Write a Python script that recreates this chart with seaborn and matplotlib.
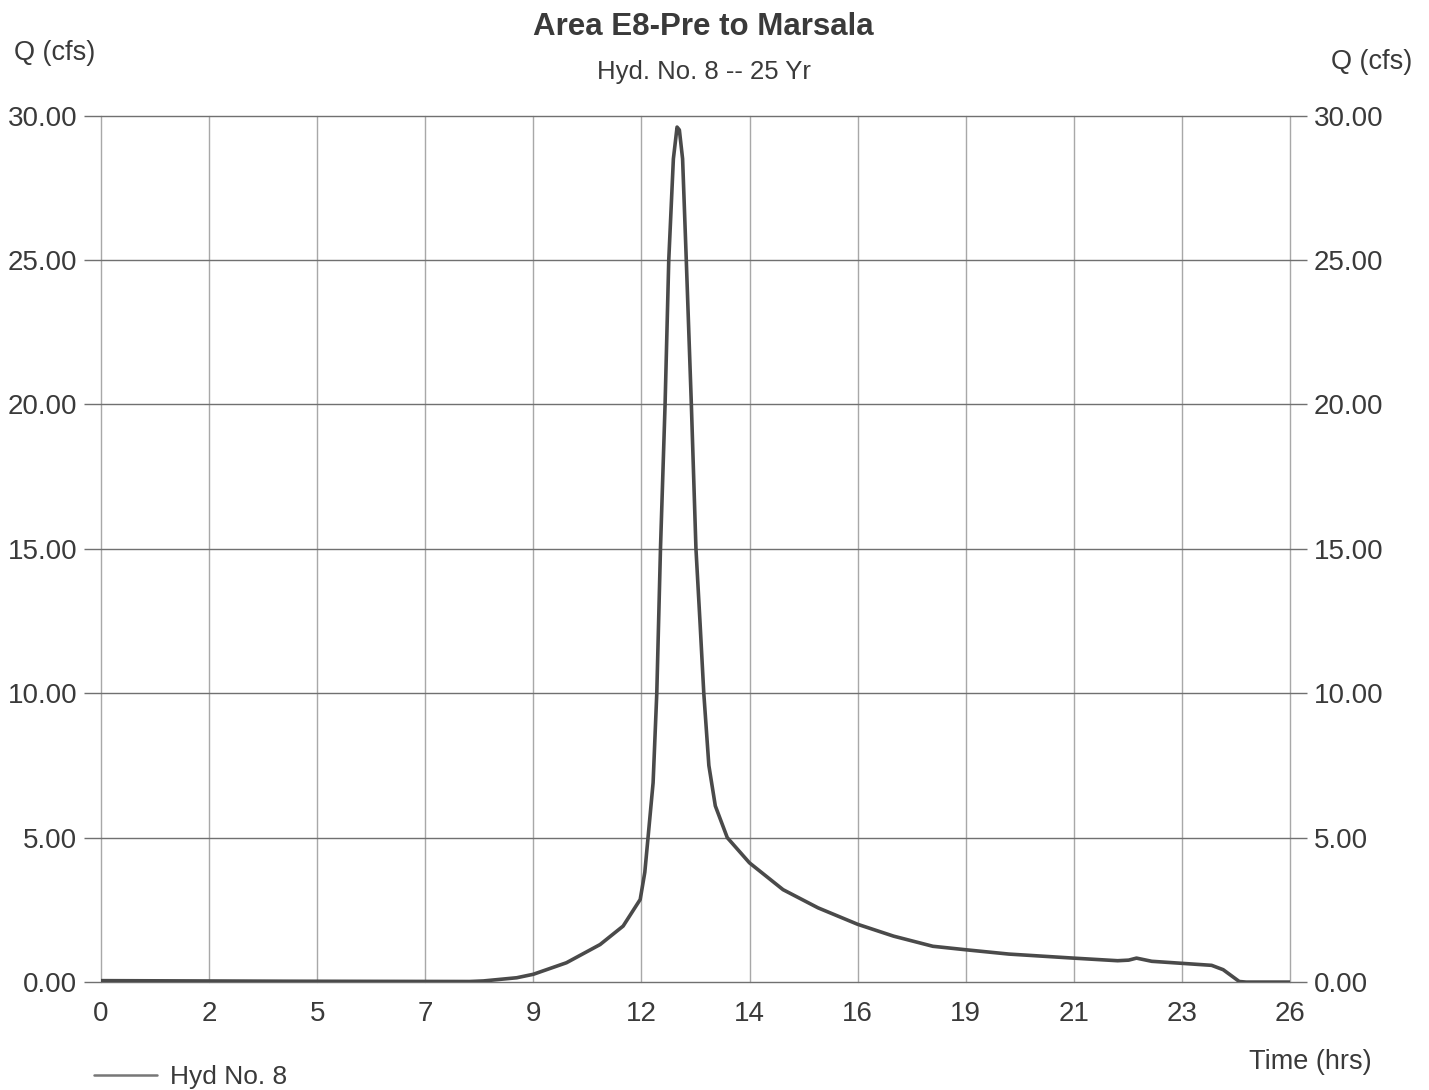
import matplotlib
matplotlib.use("Agg")
from matplotlib import pyplot as plt
import seaborn as sns
import numpy as np
import pandas as pd

# hydrograph
time_hrs = [0, 4, 8.0, 8.3, 9.02, 9.38, 10.1, 10.83, 11.33, 11.7, 11.8, 11.87, 11.98,
            12.06, 12.14, 12.24, 12.32, 12.42, 12.5, 12.55, 12.62, 12.70, 12.81, 12.91,
            13.0, 13.08, 13.19, 13.33, 13.59, 14.07, 14.8, 15.56, 16.42, 17.2, 18.05,
            18.76, 19.7, 21.1, 22.06, 22.3, 22.47, 22.8, 23.45, 24.1, 24.35, 24.7,
            24.85, 25.8]
flow_cfs = [0.05, 0.03, 0.02, 0.04, 0.15, 0.27, 0.67, 1.3, 1.94, 2.86, 3.8, 5.0, 6.9,
            10.0, 15.0, 20.0, 25.0, 28.5, 29.6, 29.5, 28.5, 25.0, 20.0, 15.0,
            12.4, 10.0, 7.5, 6.1, 5.0, 4.13, 3.2, 2.57, 2.0, 1.59, 1.24,
            1.12, 0.97, 0.83, 0.74, 0.76, 0.83, 0.72, 0.65, 0.58, 0.43, 0.02,
            0.0, 0.0]

x_labels = ["0", "2", "5", "7", "9", "12", "14", "16", "19", "21", "23", "26"]
y_ticks = [0, 5, 10, 15, 20, 25, 30]

df = pd.DataFrame({"Time (hrs)": time_hrs, "Q (cfs)": flow_cfs})

sns.set_style("white")
plt.rcParams['font.family'] = ['Liberation Sans', 'DejaVu Sans']

fig = plt.figure(figsize=(14.29, 10.90), dpi=100)
ax = fig.add_axes([0.0707, 0.099, 0.832, 0.795])

sns.lineplot(data=df, x="Time (hrs)", y="Q (cfs)", ax=ax, color="#4a4a4a",
             linewidth=2.6, label="Hyd No. 8", zorder=3)

x_pos = np.linspace(0, max(time_hrs), len(x_labels))
ax.set_xlim(0, max(time_hrs))
ax.set_ylim(0, 30)
ax.set_xticks(x_pos)
ax.set_xticklabels(x_labels)
ax.set_yticks(y_ticks)
ax.set_yticklabels([f"{v:.2f}" for v in y_ticks])

ax.xaxis.grid(True, color="#a8a8a8", linewidth=1.0)
ax.yaxis.grid(True, color="#707070", linewidth=1.0)
for g in ax.xaxis.get_gridlines() + ax.yaxis.get_gridlines():
    g.set_clip_on(False)
for s in ax.spines.values():
    s.set_visible(False)

ax.tick_params(axis="y", left=True, right=True, labelleft=True, labelright=True,
               length=12, width=1.0, color="#707070", labelsize=20, pad=5,
               labelcolor="#3a3a3a")
ax.tick_params(axis="x", bottom=False, labelsize=20, pad=10, labelcolor="#3a3a3a")

ax.set_xlabel("")
ax.set_ylabel("")

fig.text(0.0385, 0.951, "Q (cfs)", fontsize=19.5, color="#3a3a3a", ha="center", va="center")
fig.text(0.960, 0.943, "Q (cfs)", fontsize=19.5, color="#3a3a3a", ha="center", va="center")
fig.text(0.4925, 0.975, "Area E8-Pre to Marsala", fontsize=22.5, fontweight="bold",
         color="#3a3a3a", ha="center", va="center")
fig.text(0.4925, 0.934, "Hyd. No. 8 -- 25 Yr", fontsize=18.5, color="#3a3a3a",
         ha="center", va="center")
fig.text(0.960, 0.026, "Time (hrs)", fontsize=19.5, color="#3a3a3a", ha="right", va="center")

ax.legend_.remove()
handles, labels = ax.get_legend_handles_labels()
leg = fig.legend(handles, labels, loc="center left", bbox_to_anchor=(0.049, 0.012),
                 frameon=False, fontsize=19, handlelength=2.4, handletextpad=0.5)
for t in leg.get_texts():
    t.set_color("#3a3a3a")
for l in leg.get_lines():
    l.set_linewidth(1.8)
    l.set_color("#777777")

plt.savefig("out.png", dpi=100)
